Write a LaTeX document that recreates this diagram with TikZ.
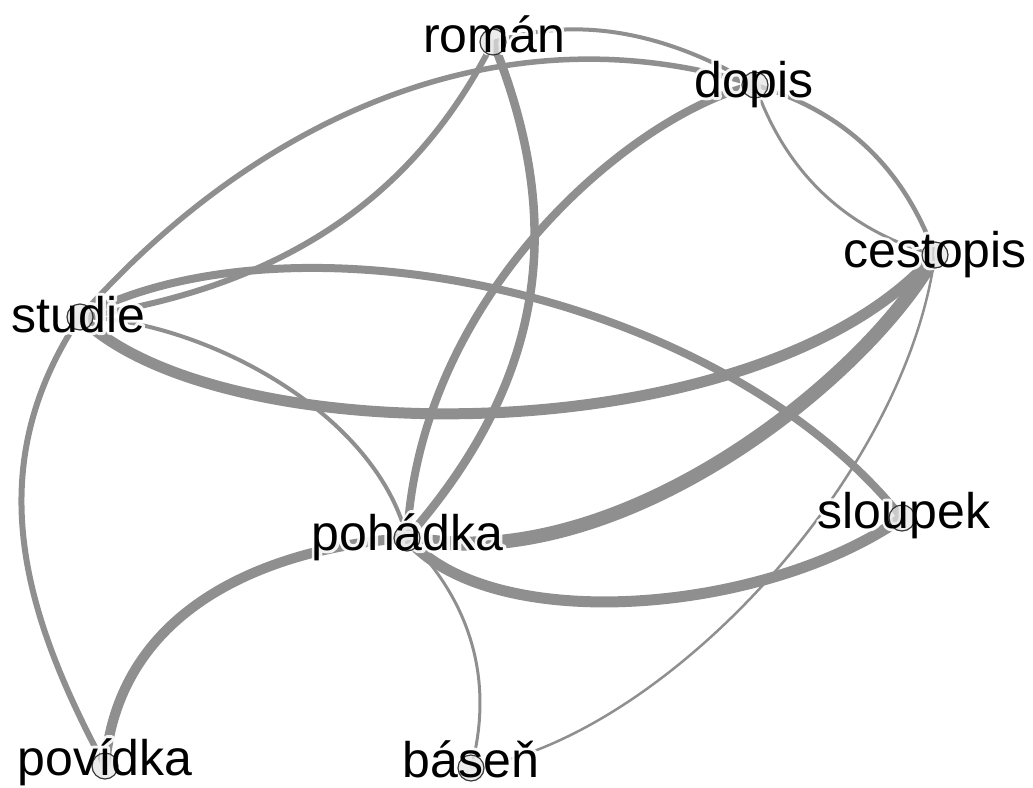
\documentclass[tikz,border=0pt]{standalone}
\usepackage{fontspec}
\setmainfont{Liberation Sans}
\definecolor{edgegray}{RGB}{143,143,143}
\definecolor{vfill}{RGB}{228,228,228}
% stroked (outline-only) text, used for the white halo behind labels
\newcommand\strokedtext[1]{\special{pdf:literal direct 1 Tr 6 w 1 j 1 J}#1\special{pdf:literal direct 0 Tr}}
\begin{document}
\begin{tikzpicture}[x=1pt,y=-1pt,
  link/.style={draw=edgegray},
  vertex/.style={circle,minimum size=26pt,inner sep=0pt,fill=vfill,fill opacity=0.7,
    draw=black!85,draw opacity=0.9,line width=1.2pt},
  lbl/.style={anchor=base,inner sep=0pt,font=\fontsize{50}{60}\selectfont},
  halo/.style={lbl,text=white,opacity=0.9}]
\useasboundingbox (0,0) rectangle (1033,787);

% vertices
\coordinate (roman)    at (493,42);
\coordinate (dopis)    at (755,85);
\coordinate (cestopis) at (935,255);
\coordinate (studie)   at (80,317);
\coordinate (pohadka)  at (407,538);
\coordinate (sloupek)  at (902,518);
\coordinate (povidka)  at (105,766);
\coordinate (basen)    at (471,768);

% links
\draw[link,line width=4pt]   (roman) .. controls (575,16) and (662,30) .. (dopis);
\draw[link,line width=4.5pt] (dopis) .. controls (844,111) and (904,168) .. (cestopis);
\draw[link,line width=3pt]   (dopis) .. controls (786,173) and (846,230) .. (cestopis);
\draw[link,line width=5.5pt] (studie) .. controls (252,122) and (498,4) .. (dopis);
\draw[link,line width=6pt]   (roman) .. controls (421,184) and (300,285) .. (studie);
\draw[link,line width=8.5pt] (roman) .. controls (565,220) and (548,378) .. (pohadka);
\draw[link,line width=8pt]   (dopis) .. controls (640,110) and (420,288) .. (pohadka);
\draw[link,line width=11pt]  (studie) .. controls (220,455) and (760,455) .. (cestopis);
\draw[link,line width=8pt]   (studie) .. controls (290,205) and (720,290) .. (sloupek);
\draw[link,line width=4pt]   (studie) .. controls (200,320) and (375,410) .. (pohadka);
\draw[link,line width=6pt]   (studie) .. controls (-19,466) and (20,608) .. (povidka);
\draw[link,line width=14pt]  (cestopis) .. controls (870,375) and (620,580) .. (pohadka);
\draw[link,line width=2.5pt] (cestopis) .. controls (905,480) and (660,740) .. (basen);
\draw[link,line width=11pt]  (pohadka) .. controls (491,636) and (763,615) .. (sloupek);
\draw[link,line width=10pt]  (pohadka) .. controls (300,545) and (120,590) .. (povidka);
\draw[link,line width=3pt]   (pohadka) .. controls (470,600) and (495,680) .. (basen);

% label halos
\node[halo] (roman-h)    at (494,52)    {\strokedtext{román}};
\node[halo] (dopis-h)    at (754,97)    {\strokedtext{dopis}};
\node[halo] (cestopis-h) at (935,267)   {\strokedtext{cestopis}};
\node[halo] (studie-h)   at (78.5,332)  {\strokedtext{studie}};
\node[halo] (pohadka-h)  at (407.5,550) {\strokedtext{pohádka}};
\node[halo] (sloupek-h)  at (904,528)   {\strokedtext{sloupek}};
\node[halo] (povidka-h)  at (105,775)   {\strokedtext{povídka}};
\node[halo] (basen-h)    at (471,777)   {\strokedtext{báseň}};

% vertex discs
\foreach \v in {roman,dopis,cestopis,studie,pohadka,sloupek,povidka,basen}
  \node[vertex] (\v-disc) at (\v) {};

% labels
\node[lbl] (roman-l)    at (494,52)    {román};
\node[lbl] (dopis-l)    at (754,97)    {dopis};
\node[lbl] (cestopis-l) at (935,267)   {cestopis};
\node[lbl] (studie-l)   at (78.5,332)  {studie};
\node[lbl] (pohadka-l)  at (407.5,550) {pohádka};
\node[lbl] (sloupek-l)  at (904,528)   {sloupek};
\node[lbl] (povidka-l)  at (105,775)   {povídka};
\node[lbl] (basen-l)    at (471,777)   {báseň};
\end{tikzpicture}
\end{document}
